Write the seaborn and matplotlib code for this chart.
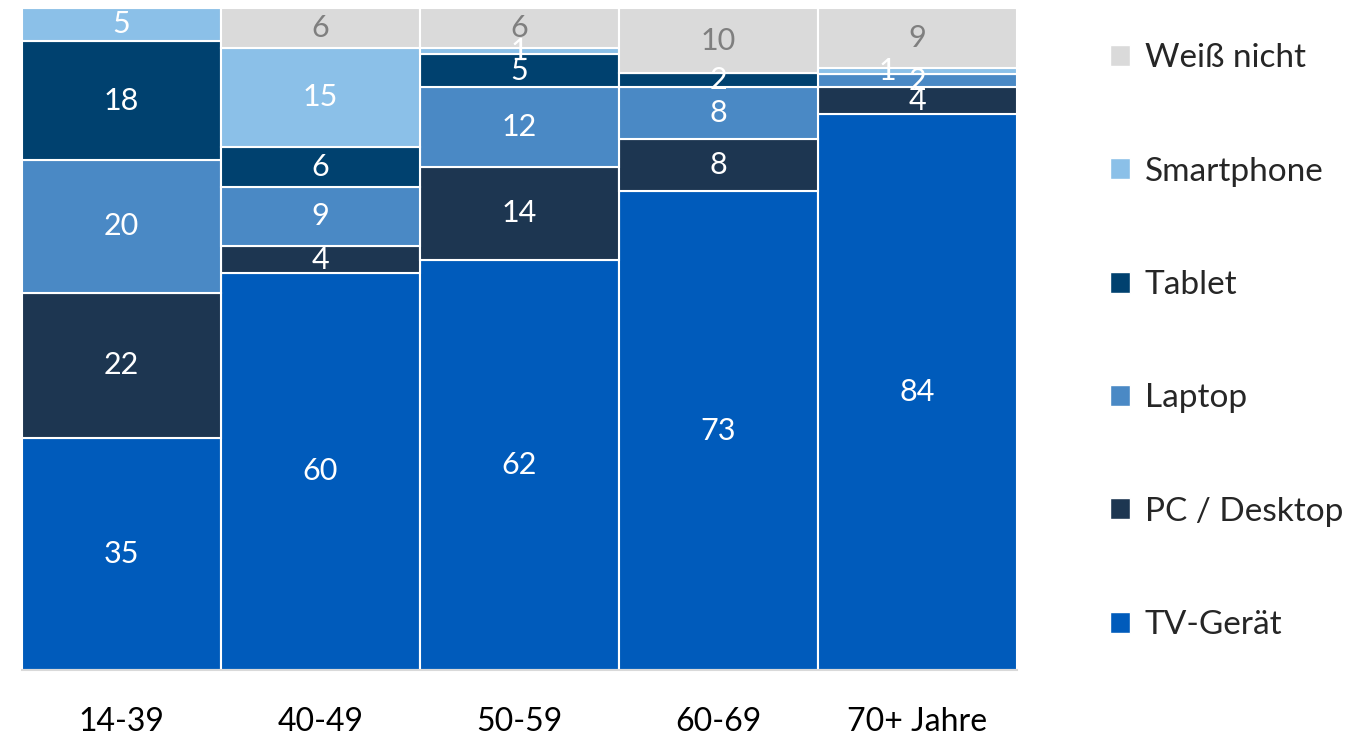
import numpy as np
import pandas as pd
import matplotlib
matplotlib.use("Agg")
import matplotlib.pyplot as plt
from matplotlib.patches import Patch
import seaborn as sns

sns.set_theme(style="white")
plt.rcParams["font.family"] = ["Lato", "DejaVu Sans"]

# data (Prozent je Altersgruppe)
groups = ["14-39", "40-49", "50-59", "60-69", "70+ Jahre"]
tv = [35, 60, 62, 73, 84]
pc = [22, 4, 14, 8, 4]
laptop = [20, 9, 12, 8, 2]
tablet = [18, 6, 5, 2, 0]
smartphone = [5, 15, 1, 0, 1]
weiss_nicht = [0, 6, 6, 10, 9]

series = ["TV-Gerät", "PC / Desktop", "Laptop", "Tablet", "Smartphone", "Weiß nicht"]
colors = ["#005bbb", "#1d3651", "#4a89c5", "#00416f", "#8bc0e8", "#dadada"]
label_colors = ["white", "white", "white", "white", "white", "#7f7f7f"]

df = pd.DataFrame(
    {"group": groups, "TV-Gerät": tv, "PC / Desktop": pc, "Laptop": laptop,
     "Tablet": tablet, "Smartphone": smartphone, "Weiß nicht": weiss_nicht}
)
# stack to 100 %
totals = df[series].sum(axis=1)
share = df[series].div(totals, axis=0) * 100

fig = plt.figure(figsize=(13.65, 7.36), dpi=100)
ax = fig.add_axes([0.016, 0.0897, 0.729, 0.8995])

bottom = np.zeros(len(groups))
for s, c, lc in zip(series, colors, label_colors):
    sns.barplot(x=df["group"], y=share[s], bottom=bottom, color=c, width=1.0,
                saturation=1, edgecolor="white", linewidth=1.5, ax=ax, order=groups)
    for i, v in enumerate(df[s]):
        if v == 0:
            continue
        dx = -0.15 if (s == "Smartphone" and groups[i] == "70+ Jahre") else 0
        ax.text(i + dx, bottom[i] + share[s][i] / 2, str(v), ha="center", va="center",
                color=lc, fontsize=22)
    bottom += share[s].values

ax.set_xlim(-0.5, 4.5)
ax.set_ylim(0, 100)
ax.set_xlabel("")
ax.set_ylabel("")
ax.set_yticks([])
ax.tick_params(axis="x", length=0, pad=27, labelsize=23, labelcolor="black")
for sp in ["top", "right", "left"]:
    ax.spines[sp].set_visible(False)
ax.spines["bottom"].set_color("#d9d9d9")
ax.spines["bottom"].set_linewidth(1.5)

handles = [Patch(facecolor=c, label=s) for s, c in zip(series, colors)][::-1]
fig.legend(handles=handles, loc="center left", bbox_to_anchor=(0.791, 0.536),
           frameon=False, fontsize=24, handlelength=0.6, handleheight=0.6,
           handletextpad=0.45, labelspacing=2.5)

fig.savefig("out.png", dpi=100)
